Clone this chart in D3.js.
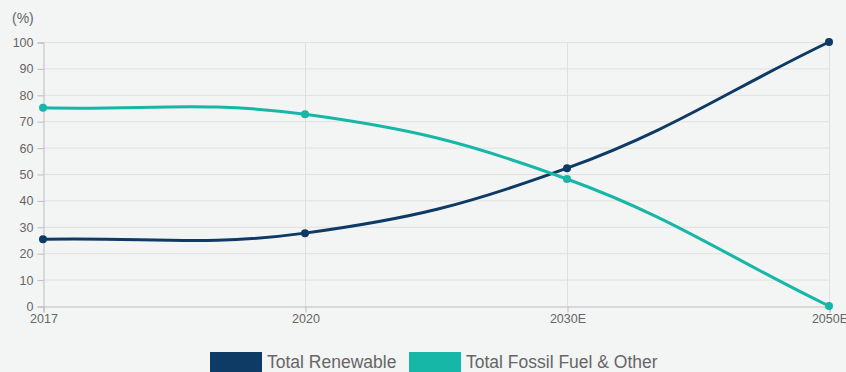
<!DOCTYPE html>
<html>
<head>
<meta charset="utf-8">
<script src="https://cdn.jsdelivr.net/npm/d3@7/dist/d3.min.js"></script>
<style>
  html, body { margin: 0; padding: 0; background: #f3f4f4; }
  svg { display: block; font-family: "Liberation Sans", Arial, sans-serif; }
</style>
</head>
<body>
<svg id="chart" width="846" height="372"></svg>
<script>
// Energy mix share (%)
const categories = ["2017", "2020", "2030E", "2050E"];
const renewable = [25.3, 27.6, 52.2, 100];
const fossil = [75.1, 72.6, 48.1, 0];
const yTicks = [0, 10, 20, 30, 40, 50, 60, 70, 80, 90, 100];
const seriesNames = ["Total Renewable", "Total Fossil Fuel & Other"];
const seriesColors = ["#0e3a66", "#16b7a6"];

const svg = d3.select("#chart");
const margin = { left: 43, right: 17, top: 42, bottom: 66 };
const W = 846, H = 372;

const x = d3.scalePoint().domain(categories).range([margin.left, W - margin.right]);
const y = d3.scaleLinear().domain([0, 100]).range([H - margin.bottom, margin.top]);

// Spline with tension, control points scaled by neighbour distances
function tensionCurve(tension) {
  function Curve(context) { this._context = context; }
  Curve.prototype = {
    areaStart() { this._line = 0; },
    areaEnd() { this._line = NaN; },
    lineStart() { this._pts = []; },
    point(px, py) { this._pts.push([+px, +py]); },
    lineEnd() {
      const p = this._pts, c = this._context, n = p.length;
      if (!n) return;
      const cps = p.map((cur, i) => {
        const prev = p[i - 1] || cur, next = p[i + 1] || cur;
        const d01 = Math.hypot(cur[0] - prev[0], cur[1] - prev[1]);
        const d12 = Math.hypot(next[0] - cur[0], next[1] - cur[1]);
        let s01 = d01 / (d01 + d12), s12 = d12 / (d01 + d12);
        if (isNaN(s01)) s01 = 0;
        if (isNaN(s12)) s12 = 0;
        const fa = tension * s01, fb = tension * s12;
        return {
          prev: [cur[0] - fa * (next[0] - prev[0]), cur[1] - fa * (next[1] - prev[1])],
          next: [cur[0] + fb * (next[0] - prev[0]), cur[1] + fb * (next[1] - prev[1])]
        };
      });
      c.moveTo(p[0][0], p[0][1]);
      for (let i = 1; i < n; i++) {
        const a = cps[i - 1].next, b = cps[i].prev;
        c.bezierCurveTo(a[0], a[1], b[0], b[1], p[i][0], p[i][1]);
      }
    }
  };
  return context => new Curve(context);
}

// Grid
const grid = svg.append("g");
grid.selectAll("line.h").data(yTicks.slice(1)).join("line")
  .attr("x1", margin.left).attr("x2", W - margin.right)
  .attr("y1", d => y(d) + 0.5).attr("y2", d => y(d) + 0.5)
  .attr("stroke", "#e0e0e0").attr("stroke-width", 1);
grid.selectAll("line.v").data(categories.slice(1)).join("line")
  .attr("x1", d => x(d) + 0.5).attr("x2", d => x(d) + 0.5)
  .attr("y1", margin.top).attr("y2", H - margin.bottom)
  .attr("stroke", "#e0e0e0").attr("stroke-width", 1);

// Y axis
const yAxis = svg.append("g").attr("transform", `translate(${margin.left + 0.5},0.5)`)
  .call(d3.axisLeft(y).tickValues(yTicks).tickSize(6).tickPadding(4));
yAxis.select(".domain").attr("stroke", "#bdbdbd");
yAxis.selectAll(".tick line").attr("stroke", "#bdbdbd");
yAxis.selectAll(".tick text").attr("fill", "#666").attr("font-size", 12.5)
  .attr("font-family", "Liberation Sans, Arial, sans-serif");

// X axis
const xAxis = svg.append("g").attr("transform", `translate(0.5,${H - margin.bottom + 0.5})`)
  .call(d3.axisBottom(x).tickSize(6).tickPadding(2));
xAxis.select(".domain").attr("stroke", "#bdbdbd");
xAxis.selectAll(".tick line").attr("stroke", "#bdbdbd");
xAxis.selectAll(".tick text").attr("fill", "#666").attr("font-size", 12.5)
  .attr("font-family", "Liberation Sans, Arial, sans-serif");

// Unit label
svg.append("text").attr("x", 12).attr("y", 23).text("(%)")
  .attr("fill", "#666").attr("font-size", 14);

// Lines and points
const series = [renewable, fossil];
const line = d3.line().x((d, i) => x(categories[i])).y(d => y(d)).curve(tensionCurve(0.4));
series.forEach((vals, k) => {
  svg.append("path").attr("d", line(vals)).attr("fill", "none")
    .attr("stroke", seriesColors[k]).attr("stroke-width", 3);
  svg.append("g").selectAll("circle").data(vals).join("circle")
    .attr("cx", (d, i) => x(categories[i])).attr("cy", d => y(d)).attr("r", 4)
    .attr("fill", seriesColors[k]);
});

// Legend
const legend = svg.append("g");
const legendX = [210, 409];
seriesNames.forEach((name, k) => {
  legend.append("rect").attr("x", legendX[k]).attr("y", 352).attr("width", 52).attr("height", 22)
    .attr("fill", seriesColors[k]);
  legend.append("text").attr("x", legendX[k] + 57).attr("y", 368).text(name)
    .attr("fill", "#666").attr("font-size", 17.5);
});
</script>
</body>
</html>
